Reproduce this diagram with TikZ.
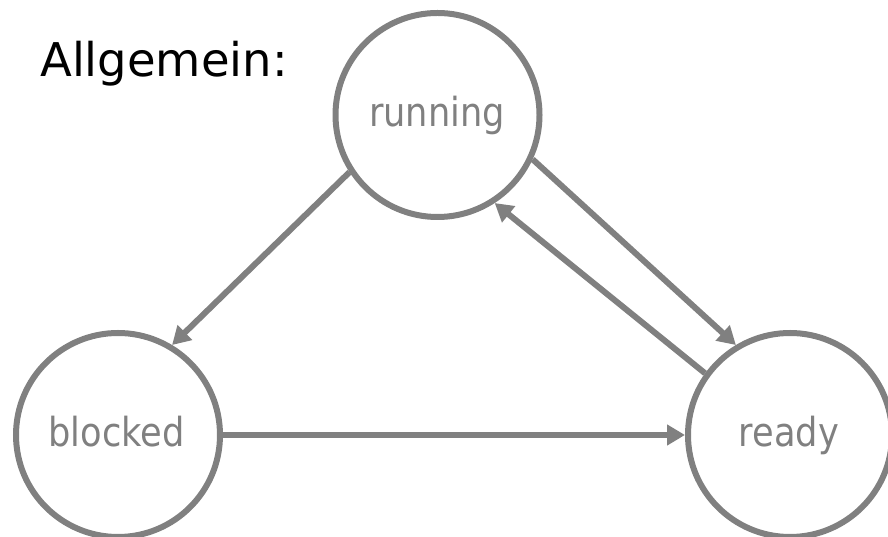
\documentclass[tikz,border=0pt]{standalone}
\usepackage{fontspec}
\setmainfont{DejaVu Sans}
\newfontfamily\lblfont[FakeStretch=0.88]{DejaVu Sans}
\usetikzlibrary{arrows.meta}
\definecolor{stgray}{HTML}{808080}
\tikzset{
  x=1pt, y=1pt,
  state/.style={circle, draw=stgray, line width=6pt, minimum size=204pt, inner sep=0pt},
  lbl/.style={anchor=base, text=stgray, font=\lblfont\fontsize{40}{42}\selectfont, inner sep=0pt},
  conn/.style={draw=stgray, line width=6pt, -{Triangle[length=18pt,width=20pt]}}
}
\begin{document}
\begin{tikzpicture}
\useasboundingbox (0,0) rectangle (888,537);
\node[state] (run) at (437.5,422) {};
\node[state] (blk) at (118,102) {};
\node[state] (rdy) at (790,102) {};
\node[lbl] (runl) at (437,410) {running};
\node[lbl] (blkl) at (116.5,90) {blocked};
\node[lbl] (rdyl) at (789,90) {ready};
\node[anchor=base west, inner sep=0pt, font=\fontsize{46.5}{50}\selectfont] (title) at (40,460) {Allgemein:};
\draw[conn] (run.213.7) -- (blk.59);
\draw[conn] (run.-25) -- (rdy.121);
\draw[conn] (rdy.144.8) -- (run.-57);
\draw[conn] (blk.east) -- (rdy.west);
\end{tikzpicture}
\end{document}
